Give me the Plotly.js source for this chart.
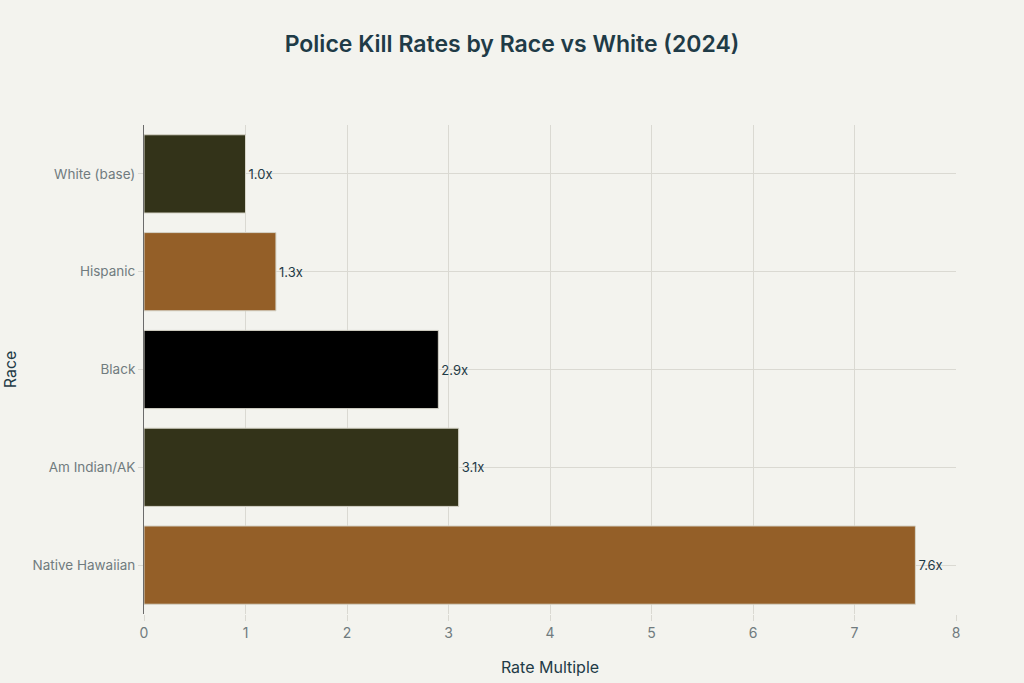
<!DOCTYPE html>
<html>
<head>
<meta charset="utf-8">
<script src="https://cdn.plot.ly/plotly-3.0.1.min.js"></script>
<style>html,body{margin:0;padding:0;background:#F3F3EE;}#chart{width:1024px;height:683px;}</style>
</head>
<body>
<div id="chart"></div>
<script>
const categories = ["White (base)", "Hispanic", "Black", "Am Indian/AK", "Native Hawaiian"];
const rateMultiples = [1.0, 1.3, 2.9, 3.1, 7.6];
const barLabels = ["1.0x", "1.3x", "2.9x", "3.1x", "7.6x"];
const barColors = ["#333319", "#945F28", "#000000", "#333319", "#945F28"];
const xTicks = [0, 1, 2, 3, 4, 5, 6, 7, 8];

const trace = {
  type: "bar",
  orientation: "h",
  x: rateMultiples,
  y: categories,
  text: barLabels,
  textposition: "outside",
  cliponaxis: false,
  textfont: {family: "Inter, 'Open Sans', sans-serif", size: 13, color: "#1F3B47"},
  marker: {color: barColors, line: {color: "#D6D4C8", width: 1}},
  hoverinfo: "none"
};

const layout = {
  width: 1024, height: 683,
  paper_bgcolor: "#F3F3EE", plot_bgcolor: "#F3F3EE",
  margin: {l: 144, r: 68, t: 125, b: 69},
  font: {family: "Inter, 'Open Sans', sans-serif", color: "#1F3B47"},
  title: {text: "Police Kill Rates by Race vs White (2024)", x: 0.5, xanchor: "center", y: 0.935, yanchor: "middle",
          font: {size: 23, weight: 600, color: "#1F3B47", family: "Inter, 'Open Sans', sans-serif"}},
  bargap: 0.2,
  showlegend: false,
  xaxis: {
    range: [0, 8], tickvals: xTicks, ticktext: xTicks.map(String),
    showgrid: true, gridcolor: "#DAD9D2", gridwidth: 1,
    zeroline: false, showline: false,
    ticks: "outside", ticklen: 6, tickcolor: "#DAD9D2",
    tickfont: {size: 14, color: "#707B7E"},
    title: {text: "Rate Multiple", standoff: 22, font: {size: 16, color: "#1F3B47"}}
  },
  yaxis: {
    autorange: "reversed", type: "category",
    showgrid: true, gridcolor: "#DAD9D2", gridwidth: 1,
    showline: true, linecolor: "#6B6B6B", linewidth: 1,
    ticks: "outside", ticklen: 5, tickcolor: "#DAD9D2",
    tickfont: {size: 13.5, color: "#707B7E"},
    title: {text: "Race", standoff: 14, font: {size: 16, color: "#1F3B47"}}
  }
};

Plotly.newPlot("chart", [trace], layout, {displayModeBar: false, staticPlot: true});
</script>
</body>
</html>
